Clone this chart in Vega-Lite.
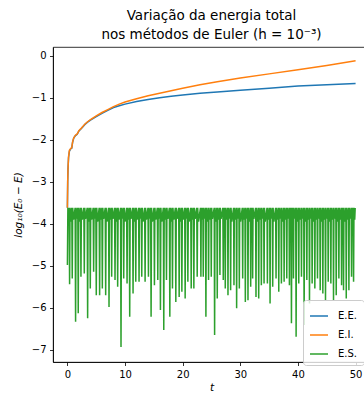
{
"$schema":"https://vega.github.io/schema/vega-lite/v6.json",
"autosize":{"type":"none"},
"padding":{"left":53,"top":47,"right":0,"bottom":32},
"width":317,"height":315,
"title":{"text":["Variação da energia total","nos métodos de Euler (h = 10⁻³)"],"font":"DejaVu Sans","fontSize":13.5,"fontWeight":"normal","color":"#000","anchor":"middle","offset":6,"lineHeight":18.5},
"config":{
"view":{"stroke":"#000","strokeWidth":0.8},
"axis":{"domainColor":"#000","domainWidth":0.8,"tickColor":"#000","tickWidth":0.8,"tickSize":3.5,"labelFont":"DejaVu Sans","labelFontSize":10,"labelColor":"#000","titleFont":"DejaVu Sans","titleFontSize":10.5,"titleFontWeight":"normal","titleColor":"#000","grid":false,"labelPadding":3.5}
},
"datasets":{
"ee":[{"t":0,"v":-3.62},{"t":0.05,"v":-3.0},{"t":0.1,"v":-2.7},{"t":0.2,"v":-2.42},{"t":0.35,"v":-2.27},{"t":0.6,"v":-2.21},{"t":0.75,"v":-2.2},{"t":0.9,"v":-2.06},{"t":1.1,"v":-1.96},{"t":1.4,"v":-1.9},{"t":1.7,"v":-1.87},{"t":2.0,"v":-1.79},{"t":2.3,"v":-1.75},{"t":2.7,"v":-1.69},{"t":3.0,"v":-1.64},{"t":3.5,"v":-1.58},{"t":4,"v":-1.53},{"t":5,"v":-1.45},{"t":6,"v":-1.37},{"t":7,"v":-1.3},{"t":8,"v":-1.23},{"t":9,"v":-1.19},{"t":10,"v":-1.15},{"t":12,"v":-1.09},{"t":14,"v":-1.04},{"t":16,"v":-1.0},{"t":18,"v":-0.96},{"t":20,"v":-0.93},{"t":23,"v":-0.89},{"t":26,"v":-0.86},{"t":30,"v":-0.82},{"t":35,"v":-0.77},{"t":40,"v":-0.72},{"t":45,"v":-0.69},{"t":50,"v":-0.66}],
"ei":[{"t":0,"v":-3.62},{"t":0.05,"v":-3.0},{"t":0.1,"v":-2.7},{"t":0.2,"v":-2.4},{"t":0.35,"v":-2.25},{"t":0.6,"v":-2.2},{"t":0.75,"v":-2.19},{"t":0.9,"v":-2.05},{"t":1.1,"v":-1.95},{"t":1.4,"v":-1.89},{"t":1.7,"v":-1.86},{"t":2.0,"v":-1.78},{"t":2.3,"v":-1.74},{"t":2.7,"v":-1.68},{"t":3.0,"v":-1.63},{"t":3.5,"v":-1.57},{"t":4,"v":-1.52},{"t":5,"v":-1.43},{"t":6,"v":-1.35},{"t":7,"v":-1.28},{"t":8,"v":-1.21},{"t":9,"v":-1.15},{"t":10,"v":-1.1},{"t":12,"v":-1.02},{"t":14,"v":-0.95},{"t":16,"v":-0.89},{"t":18,"v":-0.83},{"t":20,"v":-0.77},{"t":23,"v":-0.69},{"t":26,"v":-0.62},{"t":30,"v":-0.53},{"t":35,"v":-0.43},{"t":40,"v":-0.33},{"t":45,"v":-0.23},{"t":50,"v":-0.12}],
"es":[
{"t":0,"v":-4.98},{"t":0.08,"v":-3.62},{"t":0.22,"v":-3.88},
{"t":0.30,"v":-3.62},{"t":0.38,"v":-5.44},{"t":0.46,"v":-3.62},{"t":0.60,"v":-3.95},
{"t":0.76,"v":-3.62},{"t":0.84,"v":-5.30},{"t":0.92,"v":-3.62},{"t":1.06,"v":-3.9},
{"t":1.34,"v":-3.62},{"t":1.42,"v":-6.33},{"t":1.50,"v":-3.62},{"t":1.64,"v":-3.88},
{"t":1.80,"v":-3.62},{"t":1.88,"v":-6.13},{"t":1.96,"v":-3.62},{"t":2.10,"v":-3.95},
{"t":2.27,"v":-3.62},{"t":2.35,"v":-5.26},{"t":2.43,"v":-3.62},{"t":2.57,"v":-3.9},
{"t":2.85,"v":-3.62},{"t":2.93,"v":-5.18},{"t":3.01,"v":-3.62},{"t":3.15,"v":-3.88},
{"t":3.43,"v":-3.62},{"t":3.51,"v":-6.25},{"t":3.59,"v":-3.62},{"t":3.73,"v":-3.95},
{"t":3.89,"v":-3.62},{"t":3.97,"v":-5.54},{"t":4.05,"v":-3.62},{"t":4.19,"v":-3.9},
{"t":4.47,"v":-3.62},{"t":4.55,"v":-5.14},{"t":4.63,"v":-3.62},{"t":4.77,"v":-3.88},
{"t":4.93,"v":-3.62},{"t":5.01,"v":-5.70},{"t":5.09,"v":-3.62},{"t":5.23,"v":-3.95},
{"t":5.51,"v":-3.62},{"t":5.59,"v":-5.70},{"t":5.67,"v":-3.62},{"t":5.81,"v":-3.9},
{"t":5.98,"v":-3.62},{"t":6.06,"v":-5.54},{"t":6.14,"v":-3.62},{"t":6.28,"v":-3.88},
{"t":6.56,"v":-3.62},{"t":6.64,"v":-5.70},{"t":6.72,"v":-3.62},{"t":6.86,"v":-3.95},
{"t":7.14,"v":-3.62},{"t":7.22,"v":-5.98},{"t":7.30,"v":-3.62},{"t":7.44,"v":-3.9},
{"t":7.60,"v":-3.62},{"t":7.68,"v":-5.26},{"t":7.76,"v":-3.62},{"t":7.90,"v":-3.88},
{"t":8.18,"v":-3.62},{"t":8.26,"v":-5.34},{"t":8.34,"v":-3.62},{"t":8.48,"v":-3.95},
{"t":8.64,"v":-3.62},{"t":8.72,"v":-5.50},{"t":8.80,"v":-3.62},{"t":8.94,"v":-3.9},
{"t":9.22,"v":-3.62},{"t":9.30,"v":-6.93},{"t":9.38,"v":-3.62},{"t":9.52,"v":-3.88},
{"t":9.69,"v":-3.62},{"t":9.77,"v":-5.30},{"t":9.85,"v":-3.62},{"t":9.99,"v":-3.95},
{"t":10.27,"v":-3.62},{"t":10.35,"v":-5.42},{"t":10.43,"v":-3.62},{"t":10.57,"v":-3.9},
{"t":10.73,"v":-3.62},{"t":10.81,"v":-6.21},{"t":10.89,"v":-3.62},{"t":11.03,"v":-3.88},
{"t":11.31,"v":-3.62},{"t":11.39,"v":-5.66},{"t":11.47,"v":-3.62},{"t":11.61,"v":-3.95},
{"t":11.78,"v":-3.62},{"t":11.86,"v":-5.38},{"t":11.94,"v":-3.62},{"t":12.08,"v":-3.9},
{"t":12.35,"v":-3.62},{"t":12.43,"v":-5.38},{"t":12.51,"v":-3.62},{"t":12.65,"v":-3.88},
{"t":12.82,"v":-3.62},{"t":12.90,"v":-5.26},{"t":12.98,"v":-3.62},{"t":13.12,"v":-3.95},
{"t":13.40,"v":-3.62},{"t":13.48,"v":-5.38},{"t":13.56,"v":-3.62},{"t":13.70,"v":-3.9},
{"t":13.98,"v":-3.62},{"t":14.06,"v":-5.26},{"t":14.14,"v":-3.62},{"t":14.28,"v":-3.88},
{"t":14.44,"v":-3.62},{"t":14.52,"v":-6.21},{"t":14.60,"v":-3.62},{"t":14.74,"v":-3.95},
{"t":15.02,"v":-3.62},{"t":15.10,"v":-5.46},{"t":15.18,"v":-3.62},{"t":15.32,"v":-3.9},
{"t":15.60,"v":-3.62},{"t":15.68,"v":-5.34},{"t":15.76,"v":-3.62},{"t":15.90,"v":-3.88},
{"t":16.06,"v":-3.62},{"t":16.14,"v":-6.05},{"t":16.22,"v":-3.62},{"t":16.36,"v":-3.95},
{"t":16.64,"v":-3.62},{"t":16.72,"v":-6.53},{"t":16.80,"v":-3.62},{"t":16.94,"v":-3.9},
{"t":17.11,"v":-3.62},{"t":17.19,"v":-5.34},{"t":17.27,"v":-3.62},{"t":17.41,"v":-3.88},
{"t":17.69,"v":-3.62},{"t":17.77,"v":-6.21},{"t":17.85,"v":-3.62},{"t":17.99,"v":-3.95},
{"t":18.15,"v":-3.62},{"t":18.23,"v":-5.54},{"t":18.31,"v":-3.62},{"t":18.45,"v":-3.9},
{"t":18.73,"v":-3.62},{"t":18.81,"v":-5.86},{"t":18.89,"v":-3.62},{"t":19.03,"v":-3.88},
{"t":19.31,"v":-3.62},{"t":19.39,"v":-5.74},{"t":19.47,"v":-3.62},{"t":19.61,"v":-3.95},
{"t":19.78,"v":-3.62},{"t":19.86,"v":-5.62},{"t":19.94,"v":-3.62},{"t":20.08,"v":-3.9},
{"t":20.35,"v":-3.62},{"t":20.43,"v":-5.78},{"t":20.51,"v":-3.62},{"t":20.65,"v":-3.88},
{"t":20.82,"v":-3.62},{"t":20.90,"v":-5.38},{"t":20.98,"v":-3.62},{"t":21.12,"v":-3.95},
{"t":21.40,"v":-3.62},{"t":21.48,"v":-5.54},{"t":21.56,"v":-3.62},{"t":21.70,"v":-3.9},
{"t":21.86,"v":-3.62},{"t":21.94,"v":-5.54},{"t":22.02,"v":-3.62},{"t":22.16,"v":-3.88},
{"t":22.44,"v":-3.62},{"t":22.52,"v":-5.26},{"t":22.60,"v":-3.62},{"t":22.74,"v":-3.95},
{"t":23.09,"v":-3.62},{"t":23.16,"v":-5.26},{"t":23.23,"v":-3.62},{"t":23.36,"v":-3.9},
{"t":23.50,"v":-3.62},{"t":23.57,"v":-5.26},{"t":23.64,"v":-3.62},{"t":23.77,"v":-3.88},
{"t":23.96,"v":-3.62},{"t":24.03,"v":-6.21},{"t":24.10,"v":-3.62},{"t":24.23,"v":-3.95},
{"t":24.42,"v":-3.62},{"t":24.49,"v":-5.34},{"t":24.56,"v":-3.62},{"t":24.69,"v":-3.9},
{"t":24.89,"v":-3.62},{"t":24.96,"v":-5.26},{"t":25.03,"v":-3.62},{"t":25.16,"v":-3.88},
{"t":25.47,"v":-3.62},{"t":25.54,"v":-6.65},{"t":25.61,"v":-3.62},{"t":25.74,"v":-3.95},
{"t":25.93,"v":-3.62},{"t":26.00,"v":-5.78},{"t":26.07,"v":-3.62},{"t":26.20,"v":-3.9},
{"t":26.39,"v":-3.62},{"t":26.46,"v":-5.22},{"t":26.53,"v":-3.62},{"t":26.66,"v":-3.88},
{"t":26.97,"v":-3.62},{"t":27.04,"v":-5.34},{"t":27.11,"v":-3.62},{"t":27.24,"v":-3.95},
{"t":27.32,"v":-3.62},{"t":27.39,"v":-5.54},{"t":27.46,"v":-3.62},{"t":27.59,"v":-3.9},
{"t":27.79,"v":-3.62},{"t":27.86,"v":-5.70},{"t":27.93,"v":-3.62},{"t":28.06,"v":-3.88},
{"t":28.25,"v":-3.62},{"t":28.32,"v":-5.58},{"t":28.39,"v":-3.62},{"t":28.52,"v":-3.95},
{"t":28.83,"v":-3.62},{"t":28.90,"v":-5.46},{"t":28.97,"v":-3.62},{"t":29.10,"v":-3.9},
{"t":29.29,"v":-3.62},{"t":29.36,"v":-6.01},{"t":29.43,"v":-3.62},{"t":29.56,"v":-3.88},
{"t":29.76,"v":-3.62},{"t":29.83,"v":-5.54},{"t":29.90,"v":-3.62},{"t":30.03,"v":-3.95},
{"t":30.34,"v":-3.62},{"t":30.41,"v":-5.30},{"t":30.48,"v":-3.62},{"t":30.61,"v":-3.9},
{"t":30.80,"v":-3.62},{"t":30.87,"v":-5.86},{"t":30.94,"v":-3.62},{"t":31.07,"v":-3.88},
{"t":31.26,"v":-3.62},{"t":31.33,"v":-5.82},{"t":31.40,"v":-3.62},{"t":31.53,"v":-3.95},
{"t":31.73,"v":-3.62},{"t":31.80,"v":-5.50},{"t":31.87,"v":-3.62},{"t":32.00,"v":-3.9},
{"t":32.07,"v":-3.62},{"t":32.14,"v":-5.30},{"t":32.21,"v":-3.62},{"t":32.34,"v":-3.88},
{"t":32.65,"v":-3.62},{"t":32.72,"v":-5.74},{"t":32.79,"v":-3.62},{"t":32.92,"v":-3.95},
{"t":33.12,"v":-3.62},{"t":33.19,"v":-5.78},{"t":33.26,"v":-3.62},{"t":33.39,"v":-3.9},
{"t":33.58,"v":-3.62},{"t":33.65,"v":-5.46},{"t":33.72,"v":-3.62},{"t":33.85,"v":-3.88},
{"t":34.05,"v":-3.62},{"t":34.12,"v":-5.42},{"t":34.19,"v":-3.62},{"t":34.32,"v":-3.95},
{"t":34.63,"v":-3.62},{"t":34.70,"v":-5.42},{"t":34.77,"v":-3.62},{"t":34.90,"v":-3.9},
{"t":35.09,"v":-3.62},{"t":35.16,"v":-5.90},{"t":35.23,"v":-3.62},{"t":35.36,"v":-3.88},
{"t":35.55,"v":-3.62},{"t":35.62,"v":-5.50},{"t":35.69,"v":-3.62},{"t":35.82,"v":-3.95},
{"t":36.13,"v":-3.62},{"t":36.20,"v":-5.30},{"t":36.27,"v":-3.62},{"t":36.40,"v":-3.9},
{"t":36.60,"v":-3.62},{"t":36.67,"v":-5.62},{"t":36.74,"v":-3.62},{"t":36.87,"v":-3.88},
{"t":37.06,"v":-3.62},{"t":37.13,"v":-5.42},{"t":37.20,"v":-3.62},{"t":37.33,"v":-3.95},
{"t":37.53,"v":-3.62},{"t":37.60,"v":-5.38},{"t":37.67,"v":-3.62},{"t":37.80,"v":-3.9},
{"t":37.99,"v":-3.62},{"t":38.06,"v":-5.30},{"t":38.13,"v":-3.62},{"t":38.26,"v":-3.88},
{"t":38.45,"v":-3.62},{"t":38.52,"v":-5.46},{"t":38.59,"v":-3.62},{"t":38.72,"v":-3.95},
{"t":38.80,"v":-3.62},{"t":38.87,"v":-6.37},{"t":38.94,"v":-3.62},{"t":39.07,"v":-3.9},
{"t":39.15,"v":-3.62},{"t":39.22,"v":-5.30},{"t":39.29,"v":-3.62},{"t":39.42,"v":-3.88},
{"t":39.61,"v":-3.62},{"t":39.68,"v":-6.69},{"t":39.75,"v":-3.62},{"t":39.88,"v":-3.95},
{"t":40.07,"v":-3.62},{"t":40.14,"v":-5.42},{"t":40.21,"v":-3.62},{"t":40.34,"v":-3.9},
{"t":40.54,"v":-3.62},{"t":40.61,"v":-5.26},{"t":40.68,"v":-3.62},{"t":40.81,"v":-3.88},
{"t":41.00,"v":-3.62},{"t":41.07,"v":-6.41},{"t":41.14,"v":-3.62},{"t":41.27,"v":-3.95},
{"t":41.47,"v":-3.62},{"t":41.54,"v":-5.34},{"t":41.61,"v":-3.62},{"t":41.74,"v":-3.9},
{"t":41.93,"v":-3.62},{"t":42.00,"v":-5.90},{"t":42.07,"v":-3.62},{"t":42.20,"v":-3.88},
{"t":42.39,"v":-3.62},{"t":42.46,"v":-5.42},{"t":42.53,"v":-3.62},{"t":42.66,"v":-3.95},
{"t":42.86,"v":-3.62},{"t":42.93,"v":-5.54},{"t":43.00,"v":-3.62},{"t":43.13,"v":-3.9},
{"t":43.32,"v":-3.62},{"t":43.39,"v":-5.30},{"t":43.46,"v":-3.62},{"t":43.59,"v":-3.88},
{"t":43.79,"v":-3.62},{"t":43.86,"v":-5.58},{"t":43.93,"v":-3.62},{"t":44.06,"v":-3.95},
{"t":44.25,"v":-3.62},{"t":44.32,"v":-5.66},{"t":44.39,"v":-3.62},{"t":44.52,"v":-3.9},
{"t":44.71,"v":-3.62},{"t":44.78,"v":-5.82},{"t":44.85,"v":-3.62},{"t":44.98,"v":-3.88},
{"t":45.18,"v":-3.62},{"t":45.25,"v":-5.38},{"t":45.32,"v":-3.62},{"t":45.45,"v":-3.95},
{"t":45.64,"v":-3.62},{"t":45.71,"v":-5.42},{"t":45.78,"v":-3.62},{"t":45.91,"v":-3.9},
{"t":46.10,"v":-3.62},{"t":46.17,"v":-5.82},{"t":46.24,"v":-3.62},{"t":46.37,"v":-3.88},
{"t":46.57,"v":-3.62},{"t":46.64,"v":-5.70},{"t":46.71,"v":-3.62},{"t":46.84,"v":-3.95},
{"t":47.03,"v":-3.62},{"t":47.10,"v":-5.30},{"t":47.17,"v":-3.62},{"t":47.30,"v":-3.9},
{"t":47.50,"v":-3.62},{"t":47.57,"v":-5.46},{"t":47.64,"v":-3.62},{"t":47.77,"v":-3.88},
{"t":47.84,"v":-3.62},{"t":47.91,"v":-5.58},{"t":47.98,"v":-3.62},{"t":48.11,"v":-3.95},
{"t":48.31,"v":-3.62},{"t":48.38,"v":-5.78},{"t":48.45,"v":-3.62},{"t":48.58,"v":-3.9},
{"t":48.77,"v":-3.62},{"t":48.84,"v":-5.58},{"t":48.91,"v":-3.62},{"t":49.04,"v":-3.88},
{"t":49.23,"v":-3.62},{"t":49.30,"v":-5.26},{"t":49.37,"v":-3.62},{"t":49.50,"v":-3.95},
{"t":49.58,"v":-3.62},{"t":49.65,"v":-5.38},{"t":49.72,"v":-3.62},{"t":49.85,"v":-3.9},{"t":49.93,"v":-3.62}
]
},
"encoding":{
"x":{"field":"t","type":"quantitative","scale":{"domain":[-2.5,52.5],"nice":false,"zero":false},"axis":{"values":[0,10,20,30,40,50],"title":"t","titleFontStyle":"italic","titlePadding":3}},
"y":{"field":"v","type":"quantitative","scale":{"domain":[-7.29,0.21],"nice":false,"zero":false},"axis":{"values":[-7,-6,-5,-4,-3,-2,-1,0],"title":"log₁₀(E₀ − E)","titleFontStyle":"italic","titlePadding":8,"labelExpr":"replace(datum.label, '-', '−')"}}
},
"layer":[
{"data":{"name":"ee"},"mark":{"type":"line","strokeWidth":1.5},
 "encoding":{"color":{"datum":"E.E.","type":"nominal","scale":{"domain":["E.E.","E.I.","E.S."],"range":["#1f77b4","#ff7f0e","#2ca02c"]},
 "legend":{"title":null,"orient":"none","legendX":250,"legendY":253,"symbolType":"stroke","symbolSize":324,"symbolStrokeWidth":1.5,"labelFont":"DejaVu Sans","labelFontSize":10,"labelColor":"#000","padding":6,"fillColor":"rgba(255,255,255,0.8)","strokeColor":"#cccccc","cornerRadius":3,"rowPadding":4,"labelOffset":9}}}},
{"data":{"name":"ei"},"mark":{"type":"line","strokeWidth":1.5},"encoding":{"color":{"datum":"E.I.","type":"nominal"}}},
{"data":{"name":"es"},"mark":{"type":"line","strokeWidth":1.5},"encoding":{"color":{"datum":"E.S.","type":"nominal"}}}
]
}
